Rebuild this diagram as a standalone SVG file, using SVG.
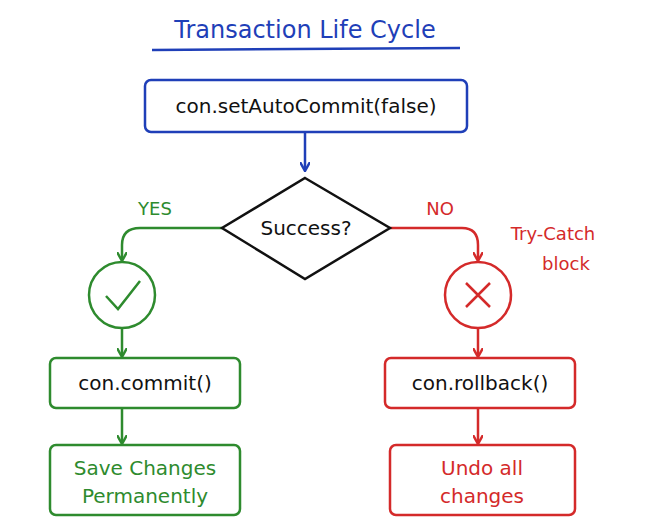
<svg xmlns="http://www.w3.org/2000/svg" width="649" height="532" viewBox="0 0 649 532">
<style>
text{font-family:"DejaVu Sans","Liberation Sans",sans-serif;font-size:20px;text-anchor:middle;fill:#111}
.b{fill:#fff;stroke-width:2.5}
.blue{stroke:#1f3fb8}.green{stroke:#2e8b2e}.red{stroke:#d42a2a}
.c{fill:none;stroke-width:2.5}
</style>
<defs>
<marker id="ab" markerWidth="10" markerHeight="10" refX="8" refY="5" orient="auto" markerUnits="userSpaceOnUse"><path d="M0,0 L9,5 L0,10" fill="none" stroke="#1f3fb8" stroke-width="2.5"/></marker>
<marker id="ag" markerWidth="10" markerHeight="10" refX="8" refY="5" orient="auto" markerUnits="userSpaceOnUse"><path d="M0,0 L9,5 L0,10" fill="none" stroke="#2e8b2e" stroke-width="2.5"/></marker>
<marker id="ar" markerWidth="10" markerHeight="10" refX="8" refY="5" orient="auto" markerUnits="userSpaceOnUse"><path d="M0,0 L9,5 L0,10" fill="none" stroke="#d42a2a" stroke-width="2.5"/></marker>
</defs>
<rect width="649" height="532" fill="#fff"/>
<g id="title">
<text x="305" y="38" style="font-size:24px;fill:#1f3fb8">Transaction Life Cycle</text>
<path d="M152,50 L460,48" class="c blue"/>
</g>
<g id="connectors">
<path d="M305,133 V170" class="c blue" marker-end="url(#ab)"/>
<path d="M222,228 H140 Q122,228 122,245 V260" class="c green" marker-end="url(#ag)"/>
<path d="M122,329 V356" class="c green" marker-end="url(#ag)"/>
<path d="M122,409 V443" class="c green" marker-end="url(#ag)"/>
<path d="M390,228 H462 Q478,228 478,245 V260" class="c red" marker-end="url(#ar)"/>
<path d="M478,329 V356" class="c red" marker-end="url(#ar)"/>
<path d="M478,409 V443" class="c red" marker-end="url(#ar)"/>
<text x="155" y="215" style="font-size:18px;fill:#2e8b2e">YES</text>
<text x="440" y="215" style="font-size:18px;fill:#d42a2a">NO</text>
<text x="553" y="240" style="font-size:18px;fill:#d42a2a">Try-Catch</text>
<text x="566" y="270" style="font-size:18px;fill:#d42a2a">block</text>
</g>
<g id="start"><rect x="145" y="80" width="322" height="52" rx="6" class="b blue"/><text x="306" y="113">con.setAutoCommit(false)</text></g>
<g id="decision"><path d="M305,178 L390,228 L305,279 L222,228 Z" class="b" stroke="#111"/><text x="306" y="235">Success?</text></g>
<g id="ok"><circle cx="122" cy="295" r="33" class="b green"/><path d="M106,296 L118,309 L140,281" class="c green" stroke-width="3.5"/></g>
<g id="fail"><circle cx="478" cy="295" r="33" class="b red"/><path d="M466,283 L490,307 M490,283 L466,307" class="c red" stroke-width="3.5"/></g>
<g id="commit"><rect x="50" y="358" width="190" height="50" rx="6" class="b green"/><text x="145" y="390">con.commit()</text></g>
<g id="save"><rect x="50" y="445" width="190" height="70" rx="6" class="b green"/><text x="145" y="475" style="fill:#2e8b2e">Save Changes</text><text x="145" y="503" style="fill:#2e8b2e">Permanently</text></g>
<g id="rollback"><rect x="385" y="358" width="190" height="50" rx="6" class="b red"/><text x="480" y="390">con.rollback()</text></g>
<g id="undo"><rect x="390" y="445" width="185" height="70" rx="6" class="b red"/><text x="482" y="475" style="fill:#d42a2a">Undo all</text><text x="482" y="503" style="fill:#d42a2a">changes</text></g>
</svg>
